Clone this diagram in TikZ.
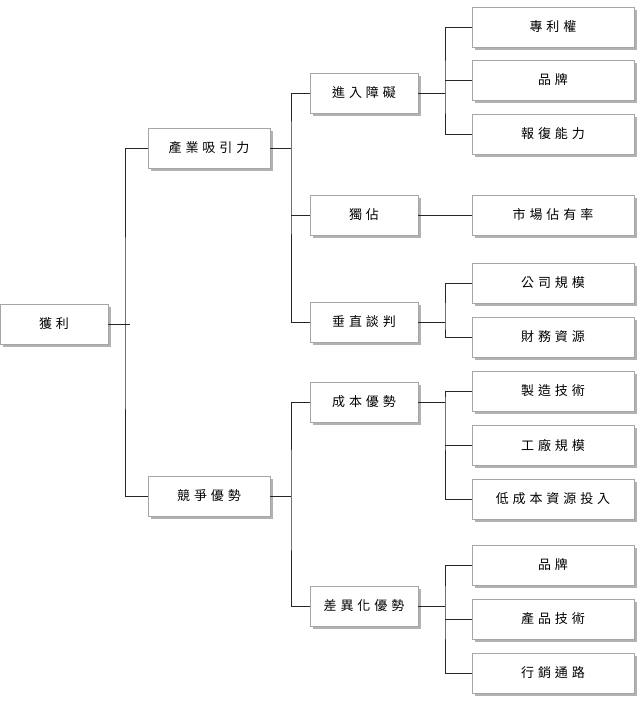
\documentclass[tikz,border=0pt]{standalone}
\usepackage{fontspec}
\newfontfamily\cjk[LetterSpace=30]{Noto Sans CJK TC}
\usetikzlibrary{shadows}

\begin{document}
\begin{tikzpicture}[
  x=1pt, y=-1pt,
  box/.style={draw=gray!70, fill=white, line width=0.8pt,
    minimum height=40pt, inner sep=2pt,
    font=\cjk\fontsize{13}{15}\selectfont,
    drop shadow={shadow xshift=3pt, shadow yshift=-3pt,
      fill=gray!60, opacity=1}},
  rootbox/.style={box, minimum width=108pt},
  midbox/.style={box, minimum width=122pt},
  subbox/.style={box, minimum width=108pt},
  leafbox/.style={box, minimum width=162pt},
  link/.style={draw=black!85, line width=0.8pt}
]
\useasboundingbox (0,0) rectangle (644,717);

% root and first level
\node[rootbox] (profit) at (54,324) {獲利};
\node[midbox] (industry) at (209,148) {產業吸引力};
\node[midbox] (compete) at (209,496) {競爭優勢};

% second level
\node[subbox] (entry) at (364,93) {進入障礙};
\node[subbox] (mono) at (364,215) {獨佔};
\node[subbox] (vert) at (364,322) {垂直談判};
\node[subbox] (cost) at (364,402) {成本優勢};
\node[subbox] (diff) at (364,606) {差異化優勢};

% leaves
\foreach \name/\y/\txt in {
    patent/27/專利權, brandA/80/品牌, revenge/134/報復能力,
    share/215/市場佔有率, firmsize/283/公司規模, finance/337/財務資源,
    manuf/391/製造技術, plant/445/工廠規模, lowcost/499/低成本資源投入,
    brandB/565/品牌, prodtech/619/產品技術, channel/673/行銷通路}
  \node[leafbox] (\name) at (553,\y) {\txt};

% trunks
\coordinate (t0) at (125,324);
\coordinate (t1) at (291,148);
\coordinate (t2) at (291,496);
\coordinate (t3) at (445,93);
\coordinate (t4) at (445,322);
\coordinate (t5) at (445,402);
\coordinate (t6) at (445,606);

\draw[link] (profit.east) -- ([xshift=5pt]t0);
\draw[link] (industry.west) -| (t0) |- (compete.west);

\draw[link] (industry.east) -- (t1);
\draw[link] (entry.west) -| (t1) |- (vert.west);
\draw[link] (t1 |- mono.west) -- (mono.west);

\draw[link] (compete.east) -- (t2);
\draw[link] (cost.west) -| (t2) |- (diff.west);

\draw[link] (entry.east) -- (t3);
\draw[link] (patent.west) -| (t3) |- (revenge.west);
\draw[link] (t3 |- brandA.west) -- (brandA.west);

\draw[link] (mono.east) -- (share.west);

\draw[link] (vert.east) -- (t4);
\draw[link] (firmsize.west) -| (t4) |- (finance.west);

\draw[link] (cost.east) -- (t5);
\draw[link] (manuf.west) -| (t5) |- (lowcost.west);
\draw[link] (t5 |- plant.west) -- (plant.west);

\draw[link] (diff.east) -- (t6);
\draw[link] (brandB.west) -| (t6) |- (channel.west);
\draw[link] (t6 |- prodtech.west) -- (prodtech.west);
\end{tikzpicture}
\end{document}
